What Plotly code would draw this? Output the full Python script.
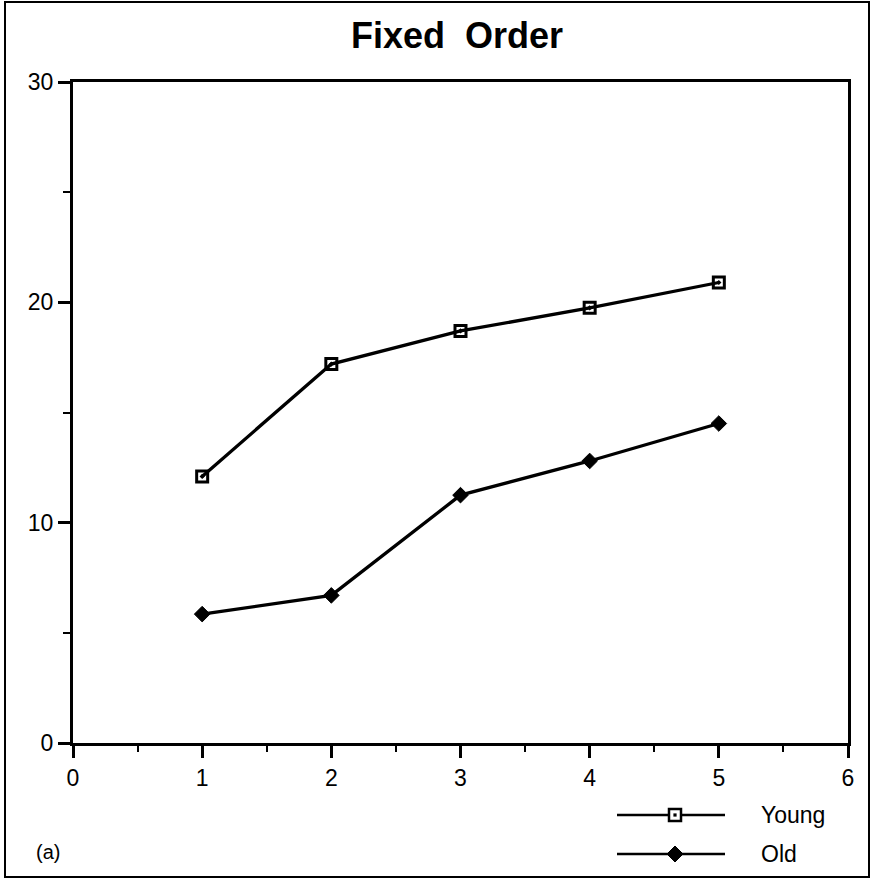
import plotly.graph_objects as go

# ---- data ----
x_values = [1, 2, 3, 4, 5]
young = [12.1, 17.2, 18.7, 19.75, 20.9]
old = [5.85, 6.7, 11.25, 12.8, 14.5]
series_names = ["Young", "Old"]
x_tick_labels = ["0", "1", "2", "3", "4", "5", "6"]
y_tick_labels = ["0", "10", "20", "30"]
title_text = "Fixed  Order"
panel_label = "(a)"

W, H = 875, 879
FONT = "Liberation Sans, Arial, Helvetica, sans-serif"

# plot area in pixels
PL, PR, PT, PB = 73, 848, 82, 743


def px(x):
    return x / W


def py(y):
    return 1 - y / H


fig = go.Figure()
fig.add_trace(go.Scatter(
    x=x_values, y=young, mode="lines+markers", name=series_names[0],
    line=dict(color="black", width=3.3),
    marker=dict(symbol="square-open-dot", size=11, color="black",
                line=dict(width=3, color="black")),
    showlegend=False,
))
fig.add_trace(go.Scatter(
    x=x_values, y=old, mode="lines+markers", name=series_names[1],
    line=dict(color="black", width=3.3),
    marker=dict(symbol="diamond", size=12, color="black",
                line=dict(width=1, color="black")),
    showlegend=False,
))

shapes = []
# outer frame
shapes.append(dict(type="rect", xref="paper", yref="paper",
                   x0=px(5), x1=px(869), y0=py(877), y1=py(2),
                   line=dict(color="black", width=2), fillcolor="rgba(0,0,0,0)"))

annotations = []
# legend (manual, long sample lines like the original)
leg_rows = [(815, "square"), (854, "diamond")]
for (yy, sym), name in zip(leg_rows, series_names):
    shapes.append(dict(type="line", xref="paper", yref="paper",
                       x0=px(617), x1=px(725), y0=py(yy), y1=py(yy),
                       line=dict(color="black", width=2.5)))
    cx = 675
    if sym == "square":
        s = 6
        shapes.append(dict(type="rect", xref="paper", yref="paper",
                           x0=px(cx - s), x1=px(cx + s), y0=py(yy + s), y1=py(yy - s),
                           line=dict(color="black", width=2.5), fillcolor="white"))
        d = 1.6
        shapes.append(dict(type="rect", xref="paper", yref="paper",
                           x0=px(cx - d), x1=px(cx + d), y0=py(yy + d), y1=py(yy - d),
                           line=dict(color="black", width=0), fillcolor="black"))
    else:
        r = 8
        path = (f"M {px(cx - r)} {py(yy)} L {px(cx)} {py(yy - r)} "
                f"L {px(cx + r)} {py(yy)} L {px(cx)} {py(yy + r)} Z")
        shapes.append(dict(type="path", xref="paper", yref="paper", path=path,
                           line=dict(color="black", width=1), fillcolor="black"))
    annotations.append(dict(text=name, xref="paper", yref="paper",
                            x=px(759), y=py(yy), xanchor="left", yanchor="middle",
                            showarrow=False,
                            font=dict(family=FONT, size=23, color="black")))

annotations.append(dict(text=panel_label, xref="paper", yref="paper",
                        x=px(34), y=py(852), xanchor="left", yanchor="middle",
                        showarrow=False,
                        font=dict(family=FONT, size=20, color="black")))
annotations.append(dict(text=f"<b>{title_text}</b>", xref="paper", yref="paper",
                        x=px(457), y=py(36), xanchor="center", yanchor="middle",
                        showarrow=False,
                        font=dict(family=FONT, size=36, color="black")))

fig.update_layout(
    width=W, height=H,
    margin=dict(l=0, r=0, t=0, b=0, pad=0, autoexpand=False),
    paper_bgcolor="white", plot_bgcolor="white",
    font=dict(family=FONT, size=22, color="black"),
    shapes=shapes, annotations=annotations,
    xaxis=dict(domain=[px(PL), px(PR)], range=[0, 6],
               tickvals=list(range(7)), ticktext=x_tick_labels,
               ticks="outside", ticklen=12, tickwidth=3, tickcolor="black",
               minor=dict(dtick=0.5, ticks="outside", ticklen=6, tickwidth=2, tickcolor="black"),
               showline=True, linewidth=3, linecolor="black", mirror=True,
               showgrid=False, zeroline=False, automargin=False,
               tickfont=dict(family=FONT, size=23, color="black")),
    yaxis=dict(domain=[py(PB), py(PT)], range=[0, 30],
               tickvals=[0, 10, 20, 30], ticktext=y_tick_labels,
               ticks="outside", ticklen=12, tickwidth=3, tickcolor="black",
               minor=dict(dtick=5, ticks="outside", ticklen=7, tickwidth=2, tickcolor="black"),
               showline=True, linewidth=3, linecolor="black", mirror=True,
               showgrid=False, zeroline=False, automargin=False,
               tickfont=dict(family=FONT, size=23, color="black")),
)

fig.write_html(
    "out.html",
    config={"displayModeBar": False, "responsive": False},
    post_script="document.body.style.margin='0';document.body.style.overflow='hidden';",
)
